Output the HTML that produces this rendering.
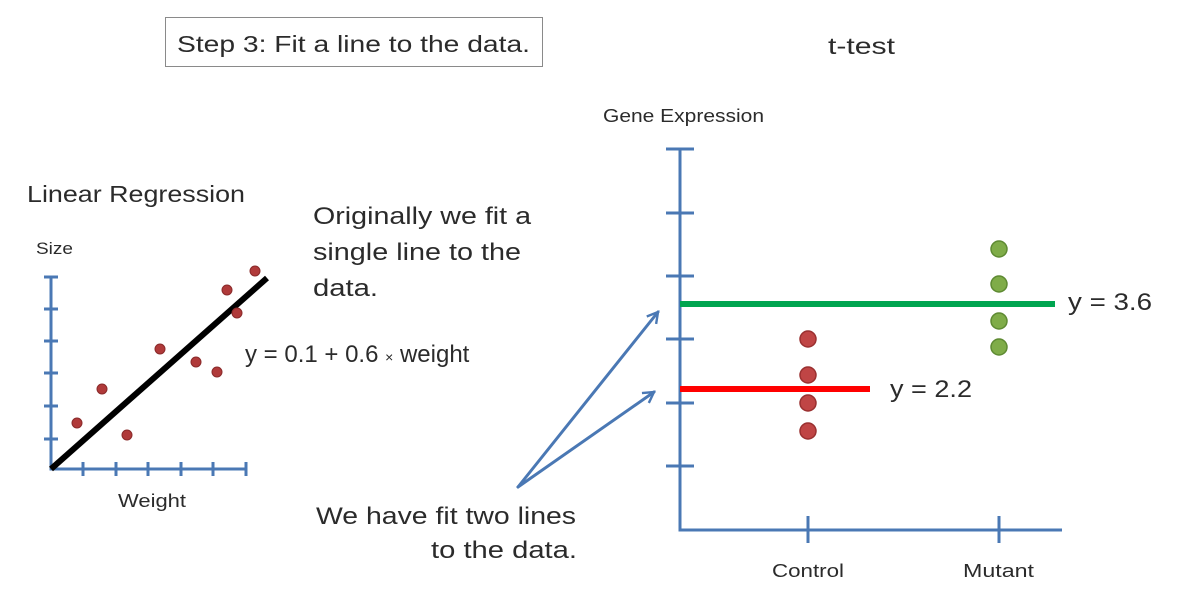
<!DOCTYPE html>
<html><head><meta charset="utf-8"><style>
html,body{margin:0;padding:0;background:#fff;}
svg{display:block;font-family:"Liberation Sans",sans-serif;}
text{fill:#2b2b2b;}
</style></head><body>
<svg width="1193" height="598" viewBox="0 0 1193 598" xmlns="http://www.w3.org/2000/svg">
<defs>
<marker id="ah" viewBox="0 0 10 10" refX="8" refY="5" markerWidth="5" markerHeight="5" orient="auto" markerUnits="strokeWidth">
<path d="M1,1 L8,5 L1,9" fill="none" stroke="#4a78b4" stroke-width="1.6"/>
</marker>
</defs>
<!-- title box -->
<rect x="165.5" y="17.5" width="377" height="49" fill="#fff" stroke="#8a8a8a" stroke-width="1"/>
<text x="177" y="52" font-size="23" textLength="353" lengthAdjust="spacingAndGlyphs">Step 3: Fit a line to the data.</text>
<text x="828" y="54" font-size="23" textLength="67" lengthAdjust="spacingAndGlyphs">t-test</text>
<text x="603" y="122" font-size="18" textLength="161" lengthAdjust="spacingAndGlyphs">Gene Expression</text>
<text x="27" y="202" font-size="23" textLength="218" lengthAdjust="spacingAndGlyphs">Linear Regression</text>
<text x="36" y="254" font-size="17" textLength="37" lengthAdjust="spacingAndGlyphs">Size</text>
<text x="118" y="507" font-size="18" textLength="68" lengthAdjust="spacingAndGlyphs">Weight</text>
<text font-size="24"><tspan x="313" y="224" textLength="218" lengthAdjust="spacingAndGlyphs">Originally we fit a</tspan><tspan x="313" y="260" textLength="208" lengthAdjust="spacingAndGlyphs">single line to the</tspan><tspan x="313" y="296" textLength="65" lengthAdjust="spacingAndGlyphs">data.</tspan></text>
<text x="245" y="362" font-size="24">y = 0.1 + 0.6 <tspan font-size="14">×</tspan> weight</text>
<text x="316" y="524" font-size="24" textLength="260" lengthAdjust="spacingAndGlyphs">We have fit two lines</text>
<text x="431" y="558" font-size="24" textLength="146" lengthAdjust="spacingAndGlyphs">to the data.</text>
<text x="890" y="397" font-size="24" textLength="82" lengthAdjust="spacingAndGlyphs">y = 2.2</text>
<text x="1068" y="310" font-size="24" textLength="84" lengthAdjust="spacingAndGlyphs">y = 3.6</text>
<text x="772" y="577" font-size="18" textLength="72" lengthAdjust="spacingAndGlyphs">Control</text>
<text x="963" y="577" font-size="18" textLength="71" lengthAdjust="spacingAndGlyphs">Mutant</text>

<!-- left chart axes -->
<g stroke="#4a78b4" stroke-width="3" fill="none">
<path d="M51,277 V469 H247"/>
<path d="M44,277H58 M44,309H58 M44,341H58 M44,373H58 M44,406H58 M44,439H58"/>
<path d="M83,462V476 M116,462V476 M148,462V476 M181,462V476 M213,462V476 M246,462V476"/>
</g>
<line x1="51" y1="469" x2="267" y2="278" stroke="#000" stroke-width="6"/>
<g fill="#b03a3a" stroke="#8a2a2a" stroke-width="1">
<circle cx="77" cy="423" r="5"/><circle cx="102" cy="389" r="5"/><circle cx="127" cy="435" r="5"/>
<circle cx="160" cy="349" r="5"/><circle cx="196" cy="362" r="5"/><circle cx="217" cy="372" r="5"/>
<circle cx="227" cy="290" r="5"/><circle cx="237" cy="313" r="5"/><circle cx="255" cy="271" r="5"/>
</g>

<!-- right chart axes -->
<g stroke="#4a78b4" stroke-width="3" fill="none">
<path d="M680,149 V530 H1062"/>
<path d="M666,149H694 M666,213H694 M666,276H694 M666,339H694 M666,403H694 M666,466H694"/>
<path d="M808,516V543 M999,516V543"/>
</g>
<line x1="680" y1="304" x2="1055" y2="304" stroke="#00a550" stroke-width="6"/>
<line x1="680" y1="389" x2="870" y2="389" stroke="#ff0000" stroke-width="6"/>
<g fill="#c04545" stroke="#9a3030" stroke-width="1.5">
<circle cx="808" cy="339" r="8"/><circle cx="808" cy="375" r="8"/><circle cx="808" cy="403" r="8"/><circle cx="808" cy="431" r="8"/>
</g>
<g fill="#7fac48" stroke="#5e8a32" stroke-width="1.5">
<circle cx="999" cy="249" r="8"/><circle cx="999" cy="284" r="8"/><circle cx="999" cy="321" r="8"/><circle cx="999" cy="347" r="8"/>
</g>

<!-- arrows -->
<g stroke="#4a78b4" stroke-width="3" fill="none" stroke-linecap="round">
<line x1="518" y1="487" x2="658" y2="312" marker-end="url(#ah)"/>
<line x1="518" y1="487" x2="654" y2="392" marker-end="url(#ah)"/>
</g>
</svg>
</body></html>
